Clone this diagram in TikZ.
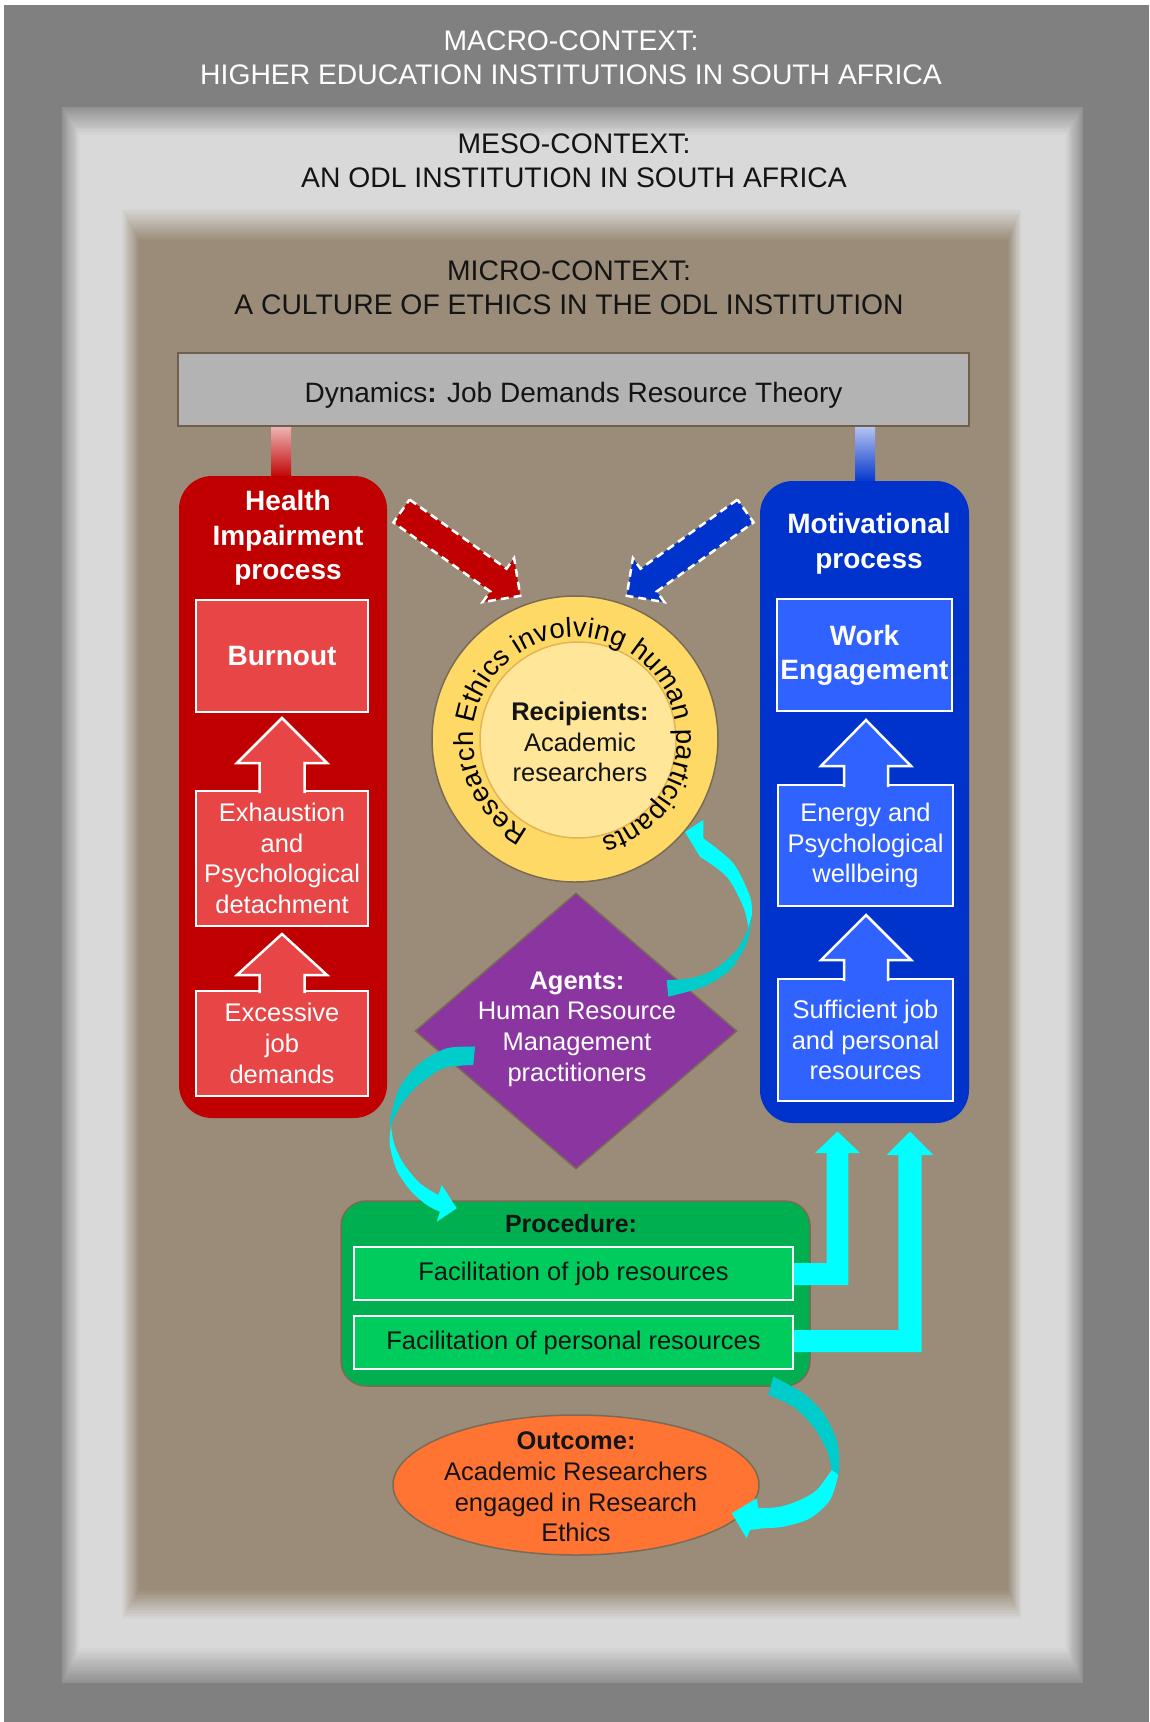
\documentclass[tikz,border=0pt]{standalone}
\usepackage{fontspec}
\setmainfont{Liberation Sans}
\usetikzlibrary{shapes.geometric,decorations.text}
\definecolor{framegray}{HTML}{808080}
\definecolor{mesolight}{HTML}{D9D9D9}
\definecolor{microbrown}{HTML}{9A8C78}
\definecolor{dyngray}{HTML}{B3B3B3}
\definecolor{dynborder}{HTML}{6E604C}
\definecolor{panelred}{HTML}{C00000}
\definecolor{boxred}{HTML}{E84646}
\definecolor{panelblue}{HTML}{0033CC}
\definecolor{boxblue}{HTML}{3062FF}
\definecolor{ringyellow}{HTML}{FFD966}
\definecolor{inneryellow}{HTML}{FFE699}
\definecolor{innerborder}{HTML}{E2B456}
\definecolor{shapeborder}{HTML}{7A6B55}
\definecolor{agentpurple}{HTML}{8B35A1}
\definecolor{procgreen}{HTML}{00B050}
\definecolor{boxgreen}{HTML}{00CC5E}
\definecolor{outorange}{HTML}{FF7433}
\definecolor{cyanA}{HTML}{00FFFF}
\definecolor{tealA}{HTML}{00CCCC}
\definecolor{headdark}{HTML}{141414}
\newcommand\fsz[2]{\fontsize{#1pt}{#2pt}\selectfont}
\newcommand\ringfont{\fontsize{27.5pt}{30pt}\selectfont}
\begin{document}
\begin{tikzpicture}[x=1pt,y=-1pt,
  headtxt/.style={align=center,font=\fsz{28.3}{34}},
  paneltitle/.style={align=center,text=white,font=\bfseries\fsz{28}{34.5}},
  panelbox/.style={rectangle,draw=white,line width=2.5pt,inner sep=0pt,align=center,text=white,font=\fsz{25.5}{30.7}},
  redbox/.style={panelbox,fill=boxred,minimum width=172pt},
  bluebox/.style={panelbox,fill=boxblue,minimum width=175pt},
  boxedge/.style={draw=white,line width=2.5pt,line join=miter},
  greenbox/.style={rectangle,draw=white,line width=2pt,fill=boxgreen,minimum width=439pt,minimum height=53pt,inner sep=0pt,font=\fsz{25.5}{30}},
  dasharrow/.style={draw=white,line width=2.5pt,dash pattern=on 8pt off 5pt,line join=miter},
  bodytxt/.style={align=center,font=\fsz{25.5}{30.7}}
]
\useasboundingbox (0,0) rectangle (1149,1722);
\fill[white] (0,0) rectangle (1149,1722);
\fill[framegray] (4,5) rectangle (1149,1722);
% meso frame
\foreach \i in {0,...,20}{
  \pgfmathtruncatemacro\p{20+\i*4}
  \fill[mesolight!\p!framegray] ({62+18*\i/20},{107+28*\i/20}) rectangle ({1083-18*\i/20},{1683-35*\i/20});
}
% micro frame
\foreach \i in {0,...,20}{
  \pgfmathtruncatemacro\p{\i*5}
  \fill[microbrown!\p!mesolight] ({121+18*\i/20},{207+33*\i/20}) rectangle ({1022-14*\i/20},{1620-30*\i/20});
}
% headings
\node[headtxt,text=white] (macro) at (571,58) {MACRO-CONTEXT:\\HIGHER EDUCATION INSTITUTIONS IN SOUTH AFRICA};
\node[headtxt,text=headdark] (meso) at (574,161) {MESO-CONTEXT:\\AN ODL INSTITUTION IN SOUTH AFRICA};
\node[headtxt,text=headdark] (micro) at (569,288) {MICRO-CONTEXT:\\A CULTURE OF ETHICS IN THE ODL INSTITUTION};
% dynamics
\node[rectangle,draw=dynborder,line width=2.5pt,fill=dyngray,minimum width=791pt,minimum height=73pt] (dyn) at (573.5,389.5) {};
\node[font=\fsz{28}{34},text=headdark] (dyntxt) at (573.5,395) {Dynamics\textbf{:} Job Demands Resource Theory};
\shade[top color=panelred!30!white,bottom color=panelred] (271,427) rectangle (291,478);
\shade[top color=panelblue!30!white,bottom color=panelblue] (855,427) rectangle (875,483);
% health impairment panel
\node[rectangle,rounded corners=33pt,fill=panelred,minimum width=208pt,minimum height=642pt] (hpanel) at (283,797) {};
\node[paneltitle] (htitle) at (288,538) {Health\\Impairment\\process};
\node[redbox,minimum height=112pt,font=\bfseries\fsz{28}{34}] (burnout) at (282,656) {Burnout};
\node[redbox,minimum height=135pt] (exhaust) at (282,858.5) {Exhaustion\\and\\Psychological\\detachment};
\node[redbox,minimum height=105pt] (excess) at (282,1043.5) {Excessive\\job\\demands};
\fill[boxred] (259.5,793) -- (259.5,763) -- (237,763) -- (282,718) -- (327,763) -- (304.5,763) -- (304.5,793) -- cycle;
\draw[boxedge] (259.5,793) -- (259.5,763) -- (237,763) -- (282,718) -- (327,763) -- (304.5,763) -- (304.5,793);
\fill[boxred] (259.5,993) -- (259.5,975) -- (237,975) -- (282,934) -- (327,975) -- (304.5,975) -- (304.5,993) -- cycle;
\draw[boxedge] (259.5,993) -- (259.5,975) -- (237,975) -- (282,934) -- (327,975) -- (304.5,975) -- (304.5,993);
% motivational panel
\node[rectangle,rounded corners=33pt,fill=panelblue,minimum width=209pt,minimum height=642pt] (mpanel) at (864.5,802) {};
\node[paneltitle] (mtitle) at (869,544) {Motivational\\process};
\node[bluebox,minimum height=112pt,font=\bfseries\fsz{28}{34}] (work) at (864.5,655) {Work\\Engagement};
\node[bluebox,minimum height=121pt] (energy) at (865.5,845.5) {Energy and\\Psychological\\wellbeing};
\node[bluebox,minimum height=122pt] (suff) at (865.5,1040) {Sufficient job\\and personal\\resources};
\fill[boxblue] (844,787) -- (844,766) -- (821,766) -- (866,720) -- (911,766) -- (888,766) -- (888,787) -- cycle;
\draw[boxedge] (844,787) -- (844,766) -- (821,766) -- (866,720) -- (911,766) -- (888,766) -- (888,787);
\fill[boxblue] (844,981) -- (844,960) -- (821,960) -- (866,915) -- (911,960) -- (888,960) -- (888,981) -- cycle;
\draw[boxedge] (844,981) -- (844,960) -- (821,960) -- (866,915) -- (911,960) -- (888,960) -- (888,981);
% recipients circle
\node[circle,fill=ringyellow,draw=shapeborder,line width=1.5pt,minimum size=286pt,inner sep=0pt] (ring) at (575,739) {};
\node[circle,fill=inneryellow,draw=innerborder,line width=1.5pt,minimum size=196pt,inner sep=0pt] (inner) at (578,740) {};
\path[decorate,decoration={text along path,text align={fit to path},text={|\ringfont|Research Ethics involving human participants}}]
  (ring.center) ++(243:102pt) arc[start angle=243,end angle=-75,radius=102pt];
\node[bodytxt,text=headdark] (recip) at (580,742) {\textbf{Recipients:}\\Academic\\researchers};
% dashed arrows
\filldraw[fill=panelred,dasharrow] (409.6,499.6) -- (506.5,568.7) -- (514.1,558.1) -- (520.3,595.8) -- (482.7,602.1) -- (490.3,591.5) -- (393.4,522.4) -- cycle;
\filldraw[fill=panelblue,dasharrow] (737.4,499.6) -- (640.5,568.7) -- (632.9,558.1) -- (626.7,595.8) -- (664.3,602.1) -- (656.7,591.5) -- (753.6,522.4) -- cycle;
% agents diamond
\node[diamond,fill=agentpurple,draw=shapeborder,line width=1.5pt,minimum width=322pt,minimum height=276pt,inner sep=0pt] (diam) at (576,1031) {};
\node[bodytxt,text=white] (agents) at (577,1029) {\textbf{Agents:}\\Human Resource\\Management\\practitioners};
% procedure
\node[rectangle,rounded corners=25pt,fill=procgreen,draw=shapeborder,line width=1.5pt,minimum width=469pt,minimum height=185pt] (proc) at (575.5,1293.5) {};
\node[font=\bfseries\fsz{25}{30},text=headdark] (proct) at (571,1224) {Procedure:};
\node[greenbox,text=headdark] (job) at (573.5,1273.5) {Facilitation of job resources};
\node[greenbox,text=headdark] (pers) at (573.5,1342.5) {Facilitation of personal resources};
% outcome
\node[ellipse,fill=outorange,draw=shapeborder,line width=1.5pt,minimum width=366pt,minimum height=140pt,inner sep=0pt] (outc) at (576,1485) {};
\node[bodytxt,text=headdark] (outt) at (576,1487) {\textbf{Outcome:}\\Academic Researchers\\engaged in Research\\Ethics};
% cyan curved arrow: agents -> recipients
\fill[cyanA] (685,832) -- (703.3,820) -- plot[smooth] coordinates {(703.3,838.3) (733.3,863.3) (750,896.7) (752,915)} -- plot[smooth] coordinates {(748.5,928) (743.3,906.7) (726.7,876.7) (700,856.7)} -- cycle;
\fill[tealA] plot[smooth] coordinates {(752,915) (746.7,943.3) (730,970) (703.3,986.7) (668.3,996.7)} -- plot[smooth] coordinates {(666.7,980) (690,978.3) (713.3,970) (736.7,950) (748.5,928)} -- cycle;
% cyan curved arrow: agents -> procedure
\fill[tealA] plot[smooth] coordinates {(475,1046.7) (446.7,1048.3) (420,1063.3) (400,1086.7) (390.7,1116.7) (390,1135)} -- plot[smooth] coordinates {(391,1125) (400,1106.7) (416.7,1086.7) (443.3,1068.3) (473.3,1065)} -- cycle;
\fill[cyanA] plot[smooth] coordinates {(390,1135) (390,1146.7) (396.7,1170) (410,1190) (426.7,1205) (440,1211.7)} -- (436.7,1221.7) -- (456.7,1208.3) -- (441.7,1185) -- plot[smooth] coordinates {(438.3,1195) (420,1183.3) (403.3,1163.3) (394,1143.3) (391,1125)} -- cycle;
% cyan curved arrow: procedure -> outcome
\fill[tealA] plot[smooth] coordinates {(773.3,1376.7) (803.3,1393.3) (823.3,1413.3) (836.7,1440) (839.3,1463.3) (838.3,1475)} -- plot[smooth] coordinates {(831.7,1470) (826.7,1450) (813.3,1426.7) (793.3,1406.7) (768.3,1395)} -- cycle;
\fill[cyanA] plot[smooth] coordinates {(838.3,1475) (830,1500) (810,1518.3) (783.3,1526.7) (763.3,1528.3) (750,1530)} -- (746.7,1538.3) -- (731.7,1513.3) -- (756.7,1498.3) -- plot[smooth] coordinates {(758.3,1508.3) (780,1506.7) (800,1500) (816.7,1490) (831.7,1470)} -- cycle;
% right-angle cyan arrows: procedure boxes -> motivational panel
\fill[cyanA] (job.east |- 0,1263) -- (826.7,1263) -- (826.7,1153) -- (815,1153) -- (837.5,1131.5) -- (860,1153) -- (848.3,1153) -- (848.3,1285) -- (job.east |- 0,1285) -- cycle;
\fill[cyanA] (pers.east |- 0,1330) -- (898.3,1330) -- (898.3,1155) -- (886.7,1155) -- (910,1131.5) -- (933.3,1155) -- (921.7,1155) -- (921.7,1352) -- (pers.east |- 0,1352) -- cycle;
\end{tikzpicture}
\end{document}
